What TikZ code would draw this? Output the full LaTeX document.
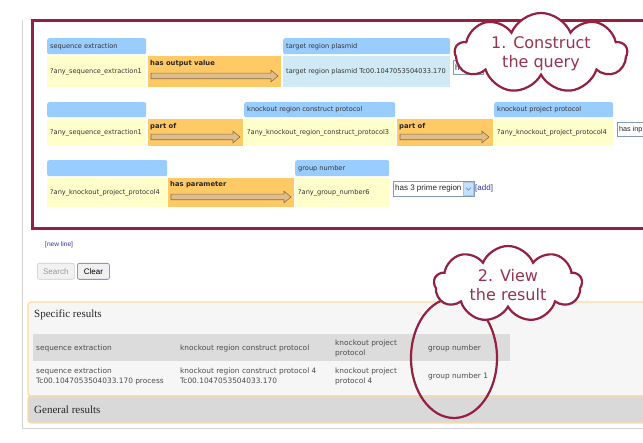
\documentclass[tikz,border=0pt]{standalone}
\usepackage{fontspec}
\setmainfont{DejaVu Sans}
\newfontfamily\serifr{Liberation Serif}
\newfontfamily\arial{Liberation Sans}
\usetikzlibrary{shapes.symbols}

\definecolor{maroon}{RGB}{148,32,66}
\definecolor{cloudtxt}{RGB}{150,52,80}
\definecolor{hdrblue}{RGB}{153,204,255}
\definecolor{cellyel}{RGB}{255,255,204}
\definecolor{orng}{RGB}{255,201,102}
\definecolor{cellblue}{RGB}{207,234,245}
\definecolor{arrfill}{RGB}{222,190,140}
\definecolor{arrdraw}{RGB}{140,110,60}
\definecolor{linkblue}{RGB}{51,51,170}
\definecolor{pborder}{RGB}{250,220,160}
\definecolor{pbg}{RGB}{246,246,246}
\definecolor{thead}{RGB}{220,220,220}
\definecolor{gbar}{RGB}{217,217,217}
\definecolor{pageline}{RGB}{210,210,210}
\definecolor{ddborder}{RGB}{127,157,185}
\definecolor{txtgrey}{RGB}{51,51,51}

\tikzset{
  qtxt/.style={font=\fontsize{6.6}{8}\selectfont, text=txtgrey, inner sep=0, anchor=west},
  boxb/.style={anchor=north west, inner sep=0, draw=none},
  hdr/.style={boxb, fill=hdrblue, rounded corners=2},
  ycell/.style={boxb, fill=cellyel},
  bcell/.style={boxb, fill=cellblue},
  ocell/.style={boxb, fill=orng},
  rel/.style={font=\bfseries\fontsize{6.8}{8}\selectfont, inner sep=0, anchor=west, text=black!85},
  fatarrow/.style={fill=arrfill, draw=arrdraw, line width=0.6, line join=miter},
  dropbox/.style={anchor=north west, inner sep=0, draw=ddborder, fill=white, line width=0.6},
  droptxt/.style={font=\arial\fontsize{8}{9}\selectfont, inner sep=0, anchor=west, text=black!85},
  linktxt/.style={font=\arial\fontsize{8}{9}\selectfont, inner sep=0, anchor=west, text=linkblue},
  ttxt/.style={font=\fontsize{7.4}{10}\selectfont, inner sep=0, anchor=west, align=left, text=black!70},
  bigtxt/.style={font=\serifr\fontsize{11}{13}\selectfont, inner sep=0, anchor=west, text=black!85},
  callout/.style={cloud, cloud puffs=9, cloud puff arc=135, cloud ignores aspect,
    draw=maroon, fill=white, line width=2.2, inner sep=0},
  callouttxt/.style={font=\fontsize{16}{19}\selectfont, text=cloudtxt, align=center, inner sep=0},
  ringmark/.style={draw=maroon, line width=2.2}
}

\newcommand\qbox[7]{%
  \node[#2, minimum width=#5, minimum height=#6] (#1) at (#3,#4) {};
  \node[qtxt] (#1t) at ([xshift=3]#1.west) {#7};}
\newcommand\relarrow[3]{%
  \draw[fatarrow] (#1,#3-2.8) -- (#2-7,#3-2.8) -- (#2-7,#3-5.8) -- (#2,#3)
    -- (#2-7,#3+5.8) -- (#2-7,#3+2.8) -- (#1,#3+2.8) -- cycle;}

\begin{document}
\begin{tikzpicture}[x=1pt,y=-1pt]
\useasboundingbox (0,0) rectangle (643,443);
\clip (0,0) rectangle (643,443);
\fill[white] (0,0) rectangle (643,443);

% page border
\draw[pageline, line width=0.8] (22,20) -- (22,428) -- (700,428);

% query frame
\draw[maroon, line width=3] (32,21) rectangle (700,229);

% Row 1
\qbox{h11}{hdr}{47}{38}{99}{16}{sequence extraction}
\qbox{c11}{ycell}{47}{56}{99}{31}{?any\_sequence\_extraction1}
\node[ocell, minimum width=133, minimum height=31] (r11) at (148,56) {};
\node[rel] (r11t) at (150,64) {has output value};
\relarrow{151}{278}{76}
\qbox{h12}{hdr}{283}{38}{167}{16}{target region plasmid}
\qbox{c12}{bcell}{283}{56}{167}{31}{target region plasmid Tc00.1047053504033.170}
\node[dropbox, minimum width=30, minimum height=14] (d1) at (453,60) {};
\node[droptxt] (d1t) at ([xshift=2]d1.west) {h};

% Row 2
\node[hdr, minimum width=99, minimum height=15] (h21) at (47,102) {};
\qbox{c21}{ycell}{47}{119}{99}{27}{?any\_sequence\_extraction1}
\node[ocell, minimum width=95, minimum height=27] (r21) at (148,119) {};
\node[rel] (r21t) at (150,127) {part of};
\relarrow{151}{240}{137}
\qbox{h22}{hdr}{244}{102}{151}{15}{knockout region construct protocol}
\qbox{c22}{ycell}{244}{119}{151}{27}{?any\_knockout\_region\_construct\_protocol3}
\node[ocell, minimum width=96, minimum height=27] (r22) at (397,119) {};
\node[rel] (r22t) at (399,127) {part of};
\relarrow{400}{489}{137}
\qbox{h23}{hdr}{494}{102}{119}{15}{knockout project protocol}
\qbox{c23}{ycell}{494}{119}{119}{27}{?any\_knockout\_project\_protocol4}
\node[dropbox, minimum width=50, minimum height=14] (d2) at (617,122) {};
\node[droptxt, font=\arial\fontsize{7.2}{9}\selectfont] (d2t) at ([xshift=2]d2.west) {has inp};

% Row 3
\node[hdr, minimum width=120, minimum height=16] (h31) at (47,160) {};
\qbox{c31}{ycell}{47}{178}{120}{29}{?any\_knockout\_project\_protocol4}
\node[ocell, minimum width=126, minimum height=29] (r31) at (168,178) {};
\node[rel] (r31t) at (170,185) {has parameter};
\relarrow{171}{291}{197}
\qbox{h32}{hdr}{295}{160}{94}{16}{group number}
\qbox{c32}{ycell}{295}{178}{94}{29}{?any\_group\_number6}
\node[dropbox, minimum width=81, minimum height=15] (d3) at (393,181) {};
\node[droptxt] (d3t) at ([xshift=2]d3.west) {has 3 prime region};
\node[anchor=north east, inner sep=0, minimum width=10, minimum height=13, fill=hdrblue!60, draw=ddborder!60, line width=0.4] (d3b) at ([xshift=-1,yshift=-1]d3.north east) {};
\draw[ddborder, line width=0.9] ([xshift=-2.5,yshift=1]d3b.center) -- ([yshift=-1.5]d3b.center) -- ([xshift=2.5,yshift=1]d3b.center);
\node[linktxt] (add) at (475,188) {[add]};

% cloud 1
\node[callout, minimum width=172, minimum height=80] (cl1) at (541,53) {};
\node[callouttxt] (cl1t) at (541,54) {1. Construct\\the query};

% new line link, buttons
\node[font=\arial\fontsize{6.6}{8}\selectfont, text=linkblue, inner sep=0, anchor=west] (nl) at (45,245) {[new line]};
\node[anchor=north west, inner sep=0, minimum width=37, minimum height=16, fill=black!5, draw=black!20, rounded corners=2, line width=0.6,
      font=\arial\fontsize{8}{9}\selectfont, text=black!40] (search) at (37,263) {Search};
\node[anchor=north west, inner sep=0, minimum width=32, minimum height=16, fill=black!6, draw=ddborder, rounded corners=2, line width=0.8,
      font=\arial\fontsize{8}{9}\selectfont, text=black] (clear) at (77,263) {Clear};

% results panel
\path[fill=pbg, draw=pborder, line width=1.2, rounded corners=3] (28,302) rectangle (700,396);
\node[bigtxt] (spec) at (34,315) {Specific results};
\fill[thead] (33,334) rectangle (510,361);
\node[ttxt] (th1) at (36,348) {sequence extraction};
\node[ttxt] (th2) at (180,348) {knockout region construct protocol};
\node[ttxt] (th3) at (335,348) {knockout project\\protocol};
\node[ttxt] (th4) at (428,348) {group number};
\node[ttxt] (td1) at (36,376) {sequence extraction\\Tc00.1047053504033.170 process};
\node[ttxt] (td2) at (180,376) {knockout region construct protocol 4\\Tc00.1047053504033.170};
\node[ttxt] (td3) at (335,376) {knockout project\\protocol 4};
\node[ttxt] (td4) at (428,376) {group number 1};
\path[fill=gbar, draw=pborder, line width=1.2, rounded corners=3] (28,396) rectangle (700,423);
\node[bigtxt] (gen) at (34,410) {General results};

% ellipse marking result column
\draw[ringmark] (454,358) ellipse [x radius=43, y radius=60];

% cloud 2
\node[callout, minimum width=148, minimum height=76] (cl2) at (508,284) {};
\node[callouttxt] (cl2t) at (508,285) {2. View\\the result};
\end{tikzpicture}
\end{document}
